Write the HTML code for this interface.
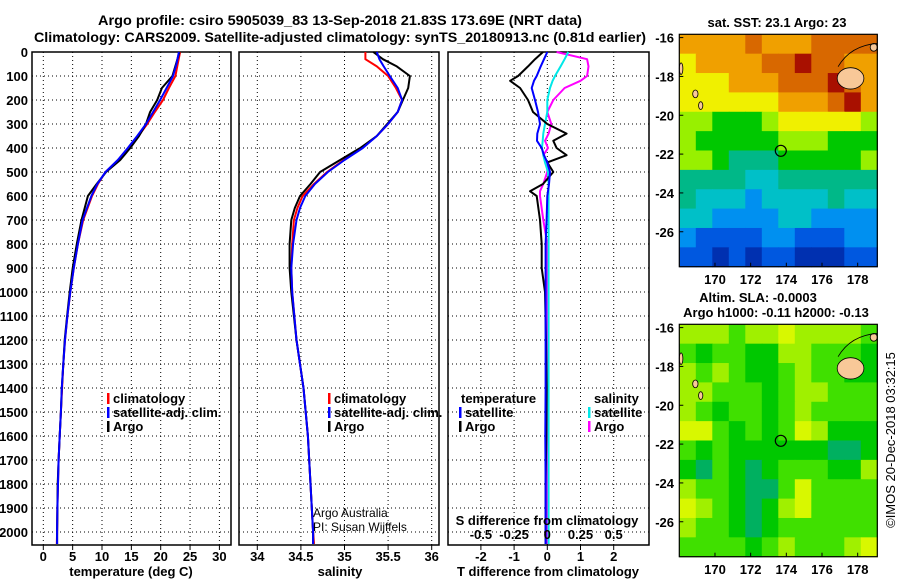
<!DOCTYPE html>
<html><head><meta charset="utf-8">
<style>
html,body{margin:0;padding:0;background:#fff;}
svg{display:block;font-family:"Liberation Sans",Arial,sans-serif;font-weight:bold;}
</style></head>
<body>
<svg id="fig" width="900" height="580" viewBox="0 0 900 580" xmlns="http://www.w3.org/2000/svg">
<text x="340" y="25" font-size="14" text-anchor="middle" textLength="484" lengthAdjust="spacingAndGlyphs">Argo profile: csiro 5905039_83 13-Sep-2018 21.83S 173.69E (NRT data)</text>
<text x="340" y="42" font-size="14" text-anchor="middle" textLength="612" lengthAdjust="spacingAndGlyphs">Climatology: CARS2009. Satellite-adjusted climatology: synTS_20180913.nc (0.81d earlier)</text>
<g id="plots"></g>
</svg>
<script>
// ---------- profile data ----------
const tDepth = [0,50,100,150,200,250,300,350,400,450,500,550,600,700,800,900,1000,1100,1200,1300,1400,1500,1600,1700,1800,1900,2000,2050];
const climT = [23.3,22.9,22.5,21.4,20.4,19.0,17.7,16.2,14.6,12.8,10.6,9.3,8.3,6.8,5.9,5.2,4.6,4.1,3.7,3.4,3.2,3.0,2.8,2.6,2.5,2.4,2.35,2.3];
const satT  = [23.1,22.7,22.1,21.0,19.9,18.7,17.5,16.0,14.4,12.7,10.6,9.2,8.2,6.7,5.9,5.2,4.6,4.1,3.7,3.4,3.15,3.0,2.8,2.6,2.5,2.4,2.35,2.35];
const argoT = [23.2,22.6,22.0,20.2,19.4,18.2,17.5,16.3,14.8,13.1,10.7,9.1,7.6,6.5,5.7,5.0,4.5,4.05,3.65,3.4,3.15,3.0,2.8,2.6,2.45,2.4,2.35,2.35];

const sDepth = [0,30,60,100,150,200,250,300,350,400,450,500,550,600,650,700,800,900,1000,1200,1400,1600,1800,2000,2050];
const climS = [35.24,35.24,35.37,35.50,35.59,35.66,35.61,35.50,35.37,35.20,34.99,34.80,34.65,34.52,34.46,34.42,34.40,34.39,34.40,34.45,34.53,34.58,34.61,34.64,34.65];
const satS  = [35.37,35.40,35.45,35.52,35.61,35.66,35.61,35.50,35.37,35.21,35.00,34.81,34.66,34.55,34.49,34.45,34.41,34.39,34.40,34.45,34.53,34.58,34.61,34.64,34.64];
const argoS = [35.33,35.44,35.60,35.75,35.73,35.67,35.61,35.49,35.37,35.18,34.95,34.72,34.61,34.49,34.43,34.39,34.37,34.37,34.39,34.45,34.53,34.58,34.61,34.64,34.64];

const dDepth = [0,30,60,100,120,150,200,250,300,340,370,400,430,460,500,550,580,600,700,800,900,1000,1200,1400,1600,1800,2000,2050];
const dTsat  = [0,-0.1,-0.2,-0.32,-0.4,-0.47,-0.37,-0.28,-0.22,-0.3,-0.31,-0.17,-0.1,0,0.08,0.05,0.02,0,-0.02,-0.05,-0.05,-0.05,-0.05,-0.05,-0.06,-0.05,-0.05,-0.05];
const dTargo = [-0.13,-0.37,-0.58,-0.88,-1.12,-0.82,-0.58,-0.43,0,0.58,0.18,0.28,0.58,0,0.18,-0.13,-0.52,-0.32,-0.22,-0.17,-0.17,-0.07,-0.04,-0.02,-0.03,-0.05,-0.05,-0.05];
const dSsat  = [0.158,0.13,0.1,0.058,0.04,0.02,0,0,-0.017,-0.03,-0.035,-0.04,-0.03,-0.017,0.005,0.01,0.01,0.01,0.01,0.01,0.01,0.01,0.01,0.01,0.01,0.01,0.01,0.01];
const dSargo = [0.07,0.3,0.31,0.3,0.25,0.13,0.045,0,0.03,0.01,-0.017,0.005,-0.03,0,0,-0.03,-0.055,-0.055,-0.03,0,0,0,0,0,0,0,0,0];

const depthTicks = [0,100,200,300,400,500,600,700,800,900,1000,1100,1200,1300,1400,1500,1600,1700,1800,1900,2000];
const tTicks = [0,5,10,15,20,25,30];
const sTicks = [34,34.5,35,35.5,36];
const sTickLabels = ["34","34.5","35","35.5","36"];
const dTTicks = [-2,-1,0,1,2];
const dSTicks = [-0.5,-0.25,0,0.25,0.5];
const dSTickLabels = ["-0.5","-0.25","0","0.25","0.5"];

// ---------- map data ----------
const sstColors = ["#0030b0","#0058e0","#0090f0","#00c0c8","#00b888","#00c800","#98f000","#f0f000","#f0a000","#d86800","#a81000"];
const sstGrid = [
[8,8,8,8,9,8,8,8,9,9,9,9],
[7,8,8,8,8,9,9,10,9,9,8,8],
[7,7,7,8,8,8,9,9,9,10,9,8],
[7,7,7,7,7,7,8,8,8,9,10,8],
[6,6,5,5,5,6,7,7,7,7,7,6],
[6,5,5,5,5,5,6,6,6,5,5,5],
[6,6,5,4,4,4,5,5,5,5,5,6],
[4,4,4,4,3,3,4,4,4,4,4,4],
[4,3,3,3,2,3,3,3,3,4,3,3],
[3,3,2,2,2,2,3,3,2,2,2,2],
[2,1,1,1,1,2,2,1,1,1,2,2],
[1,1,0,1,0,1,1,0,0,0,1,1]];
const slaColors = ["#00b060","#00c800","#40e000","#a0f000","#d8f800"];
const slaGrid = [
[3,3,3,2,3,3,4,3,3,3,3,2],
[2,1,2,2,1,1,3,3,2,2,2,1],
[3,2,3,2,1,1,2,3,2,2,1,1],
[3,3,2,2,2,1,2,3,3,2,2,2],
[3,2,1,2,2,1,2,3,2,2,2,2],
[4,4,2,1,2,1,2,4,3,1,1,1],
[2,1,2,1,1,1,1,1,1,0,0,1],
[1,0,2,1,0,1,2,2,2,1,1,3],
[3,2,2,1,0,0,2,4,2,2,2,2],
[4,3,2,1,0,1,3,4,2,2,2,2],
[3,2,2,1,0,1,2,2,2,2,2,2],
[2,2,2,2,1,2,3,2,2,2,3,4]];
const lonTicks = [170,172,174,176,178];
const latTicks = [-16,-18,-20,-22,-24,-26];
const argoLon = 173.69, argoLat = -21.83;

// ---------- helpers ----------
const NS = "http://www.w3.org/2000/svg";
const root = document.getElementById("plots");
function mk(tag, attrs, parent){
  const e = document.createElementNS(NS, tag);
  for (const k in attrs) e.setAttribute(k, attrs[k]);
  (parent||root).appendChild(e);
  return e;
}
function txt(x,y,s,size,anchor,parent){
  const t = mk("text",{x:x,y:y,"font-size":size,"text-anchor":anchor||"middle"},parent);
  t.textContent = s;
  return t;
}
const Y0 = 52, Y1 = 545;
const yD = d => Y0 + d*0.24;
function lin(d0,d1,r0,r1){ return v => r0 + (v-d0)/(d1-d0)*(r1-r0); }

function panel(name, L, R, xs, xticks, xlabels){
  const g = mk("g",{});
  
  
  depthTicks.forEach(d=>{
    const l = mk("line",{x1:L,x2:R,y1:yD(d),y2:yD(d),stroke:"#000","stroke-width":1,"stroke-dasharray":"1,3"},g);
    
    
  });
  xticks.forEach((v,i)=>{
    const x = xs(v);
    const l = mk("line",{x1:x,x2:x,y1:Y0,y2:Y1,stroke:"#000","stroke-width":1,"stroke-dasharray":"1,3"},g);
    
    
    mk("line",{x1:x,x2:x,y1:Y1,y2:Y1+5,stroke:"#000"},g);
    if (xlabels){
      const t = txt(x,561,xlabels[i],13,"middle",g);
      
      
    }
  });
  const f = mk("rect",{x:L,y:Y0,width:R-L,height:Y1-Y0,fill:"none",stroke:"#000","stroke-width":1.5},g);
  
  
  return g;
}
function series(g, name, depths, vals, xs, color, w){
  const pts = depths.map((d,i)=>xs(vals[i]).toFixed(1)+","+yD(d).toFixed(1)).join(" ");
  const p = mk("polyline",{points:pts,fill:"none",stroke:color,"stroke-width":w||2,"stroke-linejoin":"round"},g);
  
  
}
function legendEntry(g, name, x, y, color, label){
  const e = mk("g",{},g);
  
  
  if (color) mk("rect",{x:x,y:y-10,width:2.5,height:11,fill:color},e);
  txt(x+6,y,label,13,"start",e);
}

// ---------- panel 1: temperature ----------
const xT = lin(0,30,43.3,219.4);
const g1 = panel("temperature-panel",32,231,xT,tTicks,tTicks.map(String));
depthTicks.forEach(d=>{
  const t = txt(28,yD(d)+5,String(d),13,"end");
  
  
});
series(g1,"temperature-climatology-line",tDepth,climT,xT,"#ff0000");
series(g1,"temperature-argo-line",tDepth,argoT,xT,"#000000");
series(g1,"temperature-satellite-line",tDepth,satT,xT,"#0000ff");
legendEntry(g1,"legend-climatology",107,403,"#ff0000","climatology");
legendEntry(g1,"legend-satellite-adj",107,417,"#0000ff","satellite-adj. clim.");
legendEntry(g1,"legend-argo",107,431,"#000000","Argo");
const xl1 = txt(131,576,"temperature (deg C)",13);



// ---------- panel 2: salinity ----------
const xS = lin(34,36,257.3,431.7);
const g2 = panel("salinity-panel",239,439,xS,sTicks,sTickLabels);
series(g2,"salinity-climatology-line",sDepth,climS,xS,"#ff0000");
series(g2,"salinity-argo-line",sDepth,argoS,xS,"#000000");
series(g2,"salinity-satellite-line",sDepth,satS,xS,"#0000ff");
legendEntry(g2,"legend-climatology",328,403,"#ff0000","climatology");
legendEntry(g2,"legend-satellite-adj",328,417,"#0000ff","satellite-adj. clim.");
legendEntry(g2,"legend-argo",328,431,"#000000","Argo");
const cr1 = mk("text",{x:313,y:517,"font-size":12,"font-weight":"normal"},g2); cr1.textContent="Argo Australia";


const cr2 = mk("text",{x:313,y:531,"font-size":12,"font-weight":"normal"},g2); cr2.textContent="PI: Susan Wijffels";


const xl2 = txt(340,576,"salinity",13);



// ---------- panel 3: differences ----------
const xDT = lin(0,1,547.3,580.5);
const xDS = lin(0,0.25,547.3,580.5);
const g3 = panel("difference-panel",448,649,xDT,dTTicks,dTTicks.map(String));
series(g3,"salinity-argo-diff-line",dDepth,dSargo,xDS,"#ff00ff");
series(g3,"salinity-satellite-diff-line",dDepth,dSsat,xDS,"#00e8e8");
series(g3,"temperature-argo-diff-line",dDepth,dTargo,xDT,"#000000");
series(g3,"temperature-satellite-diff-line",dDepth,dTsat,xDT,"#0000ff");
legendEntry(g3,"legend-temperature-heading",455,403,null,"temperature");
legendEntry(g3,"legend-temp-satellite",459,417,"#0000ff","satellite");
legendEntry(g3,"legend-temp-argo",459,431,"#000000","Argo");
legendEntry(g3,"legend-salinity-heading",588,403,null,"salinity");
legendEntry(g3,"legend-sal-satellite",588,417,"#00e8e8","satellite");
legendEntry(g3,"legend-sal-argo",588,431,"#ff00ff","Argo");
const st = txt(547,525,"S difference from climatology",13,"middle",g3);


dSTicks.forEach((v,i)=>{
  const t = txt(xDS(v),539,dSTickLabels[i],13,"middle",g3);
  
  
});
const xl3 = txt(548,576,"T difference from climatology",13);



// ---------- maps ----------
function map(name, top, bottom, grid, colors, labelY){
  const L = 679.3, R = 877.3;
  const xLon = lin(168.0,179.1,L,R);
  const yLat = lin(-15.83,-27.8,top,bottom);
  const g = mk("g",{});
  
  
  const rows = grid.length, cols = grid[0].length;
  const cw = (R-L)/cols, ch = (bottom-top)/rows;
  grid.forEach((row,r)=>row.forEach((v,c)=>{
    const cell = mk("rect",{x:(L+c*cw).toFixed(2),y:(top+r*ch).toFixed(2),width:(cw+0.6).toFixed(2),height:(ch+0.6).toFixed(2),fill:colors[v]},g);
    
    
  }));
  const land = [[177.6,-18.1,0.75,0.55],[168.9,-18.9,0.15,0.2],[169.2,-19.5,0.12,0.2],[168.1,-17.6,0.1,0.3],[178.9,-16.5,0.2,0.2]];
  land.forEach(p=>{
    const e = mk("ellipse",{cx:xLon(p[0]),cy:yLat(p[1]),rx:p[2]*17.8,ry:p[3]*19.4,fill:"#f8c898",stroke:"#000","stroke-width":0.8},g);
    
    
  });
  mk("path",{d:`M${xLon(176.9)} ${yLat(-17.5)} Q${xLon(177.6)} ${yLat(-16.4)} ${xLon(179.1)} ${yLat(-16.3)}`,fill:"none",stroke:"#000","stroke-width":0.8},g);
  const c = mk("circle",{cx:xLon(argoLon),cy:yLat(argoLat),r:5.5,fill:"none",stroke:"#000","stroke-width":1.2},g);
  
  
  const f = mk("rect",{x:L,y:top,width:R-L,height:bottom-top,fill:"none",stroke:"#000","stroke-width":1.2},g);
  
  
  lonTicks.forEach(v=>{
    mk("line",{x1:xLon(v),x2:xLon(v),y1:bottom,y2:bottom-4,stroke:"#000"},g);
    const t = txt(xLon(v),labelY,String(v),13,"middle",g);
    
    
  });
  latTicks.forEach(v=>{
    mk("line",{x1:L,x2:L+4,y1:yLat(v),y2:yLat(v),stroke:"#000"},g);
    const t = txt(674,yLat(v)+5,String(v),13,"end",g);
    
    
  });
}
map("sst-map",34.3,266.7,sstGrid,sstColors,284);
map("sla-map",324.3,556.7,slaGrid,slaColors,574);
const mt1 = txt(777,27,"sat. SST: 23.1 Argo: 23",13);


const mt2 = txt(758,302,"Altim. SLA: -0.0003",13);


const mt3 = txt(776,317,"Argo h1000: -0.11 h2000: -0.13",13);


const cp = mk("text",{x:0,y:0,"font-size":13,"font-weight":"normal","text-anchor":"middle",transform:"translate(895,440) rotate(-90)"});
cp.textContent = "©IMOS 20-Dec-2018 03:32:15";


</script>
</body></html>
